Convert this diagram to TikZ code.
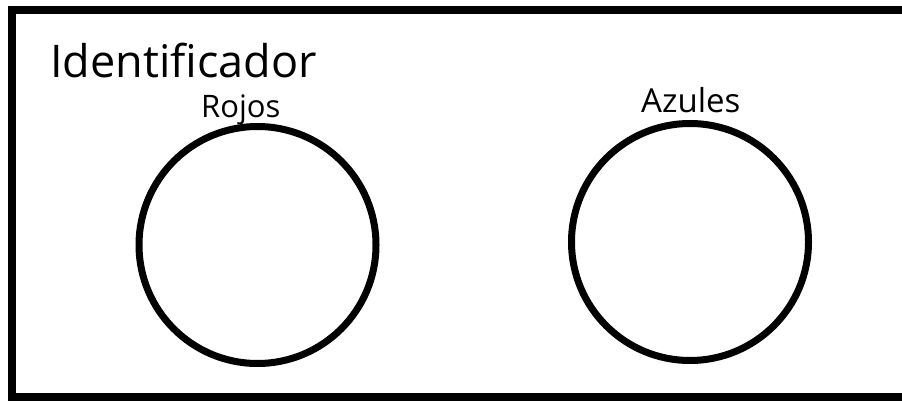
\documentclass[tikz,border=0pt]{standalone}
\usepackage{fontspec}
\setmainfont{Open Sans}
\begin{document}
\begin{tikzpicture}[x=1pt,y=-1pt,
  frame/.style={draw=black,line width=8pt,rectangle,inner sep=0pt},
  ring/.style={draw=black,line width=7pt,circle,minimum size=237pt,inner sep=0pt},
  lbl/.style={anchor=base west,inner sep=0pt,text=black}]
\useasboundingbox (0,0) rectangle (902,401);
\fill[white] (0,0) rectangle (902,401);
\begin{scope}
\clip (0,0) rectangle (902,401);
\node[frame,minimum width=920pt,minimum height=387pt] (box) at (472,203.5) {};
\end{scope}
\node[lbl,font=\fontsize{45}{50}\selectfont] (title) at (50,77.5) {Identificador};
\node[ring] (rojos) at (257.5,245) {};
\node[ring] (azules) at (690,242) {};
\node[lbl,font=\fontsize{31}{36}\selectfont] (rl) at (201,117.5) {Rojos};
\node[lbl,font=\fontsize{33}{38}\selectfont] (al) at (641,113) {Azules};
\end{tikzpicture}
\end{document}
